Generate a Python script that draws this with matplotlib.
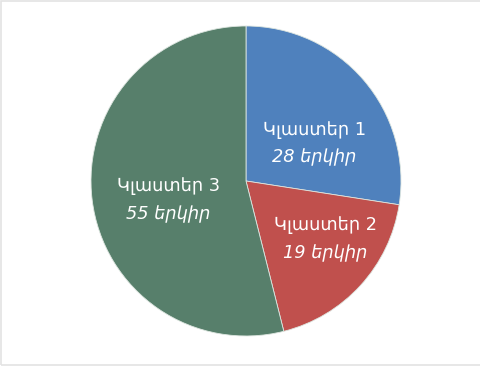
import matplotlib.pyplot as plt
from matplotlib.patches import Rectangle

# cluster sizes (number of countries)
names = ["Կլաստեր 1", "Կլաստեր 2", "Կլաստեր 3"]
counts = [28, 19, 55]
unit = "երկիր"
colors = ["#4F81BD", "#C0504D", "#577F6B"]

# label centres in pie units
label_pos = [(0.44, 0.24), (0.51, -0.375), (-0.50, -0.125)]

fig = plt.figure(figsize=(4.8, 3.66), dpi=100)
fig.patches.append(Rectangle((0.003, 0.003), 1.2, 0.994, transform=fig.transFigure,
                             fill=False, edgecolor="#E3E3E3", linewidth=1.2))

ax = fig.add_axes([0.1896, 0.082, 0.6458, 0.847])
ax.pie(counts, colors=colors, startangle=90, counterclock=False,
       wedgeprops=dict(edgecolor="#DDE6E0", linewidth=0.6))
ax.set_xlim(-1, 1)
ax.set_ylim(-1, 1)
ax.set_aspect("equal")

for name, n, (x, y) in zip(names, counts, label_pos):
    ax.text(x, y + 0.09, name, ha="center", va="center", color="white",
            fontsize=12.8, family="DejaVu Sans")
    ax.text(x, y - 0.09, f"{n} {unit}", ha="center", va="center", color="white",
            fontsize=12.8, style="italic", family="DejaVu Sans")

fig.savefig("out.png", dpi=100)
